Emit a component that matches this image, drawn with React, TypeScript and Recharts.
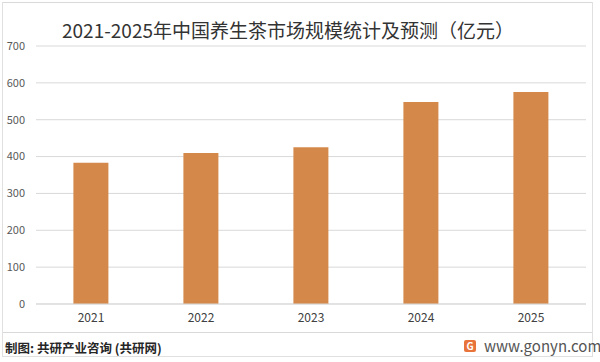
import React from 'react';
import { BarChart, Bar, XAxis, YAxis, CartesianGrid } from 'recharts';

const years = ['2021', '2022', '2023', '2024', '2025'];
const marketSize = [383, 410, 425, 548, 575];
const yTicks = [0, 100, 200, 300, 400, 500, 600, 700];

const title = '2021-2025年中国养生茶市场规模统计及预测（亿元）';
const source = '制图: 共研产业咨询 (共研网)';
const site = 'www.gonyn.com';

const data = years.map((y, i) => ({ year: y, value: marketSize[i] }));

const font = '"Microsoft YaHei", "Noto Sans CJK SC", "Noto Sans", sans-serif';

export default function App() {
  return (
    <div style={{ position: 'absolute', left: 0, top: 0, width: 600, height: 362, background: '#fff', fontFamily: font }}>
      <div style={{ position: 'absolute', left: 2, top: 2, width: 591, height: 331, border: '1px solid #d9d9d9', boxSizing: 'border-box' }} />
      <div style={{ position: 'absolute', left: 2, top: 2, width: 591, height: 355, borderLeft: '1px solid #e0e0e0', borderBottom: '1px solid #e0e0e0', borderRight: '1px solid #e0e0e0', boxSizing: 'border-box' }} />
      <div style={{ position: 'absolute', left: 0, top: 16, width: 576, textAlign: 'center', fontSize: 19, color: '#333', whiteSpace: 'nowrap' }}>{title}</div>
      <div style={{ position: 'absolute', left: 0, top: 0 }}>
        <BarChart width={600} height={362} data={data} margin={{ top: 46, right: 14, bottom: 28, left: 0 }} barCategoryGap="34%">
          <CartesianGrid vertical={false} stroke="#d9d9d9" />
          <XAxis dataKey="year" axisLine={{ stroke: '#d9d9d9' }} tickLine={false} height={30} tickMargin={3} tick={{ fontSize: 12, fill: '#404040', fontFamily: font }} />
          <YAxis domain={[0, 700]} ticks={yTicks} width={36} axisLine={false} tickLine={false} tickMargin={5} tick={{ fontSize: 11, fill: '#595959', fontFamily: font }} />
          <Bar dataKey="value" fill="#d4894a" isAnimationActive={false} />
        </BarChart>
      </div>
      <div style={{ position: 'absolute', left: 5, top: 338, fontSize: 12.5, fontWeight: 'bold', color: '#262626', whiteSpace: 'nowrap' }}>{source}</div>
      <div style={{ position: 'absolute', left: 464, top: 340, width: 12, height: 12, background: '#e8743b', borderRadius: 2, color: '#fff', fontSize: 10, fontWeight: 'bold', lineHeight: '12px', textAlign: 'center' }}>G</div>
      <div style={{ position: 'absolute', left: 484, top: 335, fontSize: 15, color: '#555', whiteSpace: 'nowrap' }}>{site}</div>
    </div>
  );
}
